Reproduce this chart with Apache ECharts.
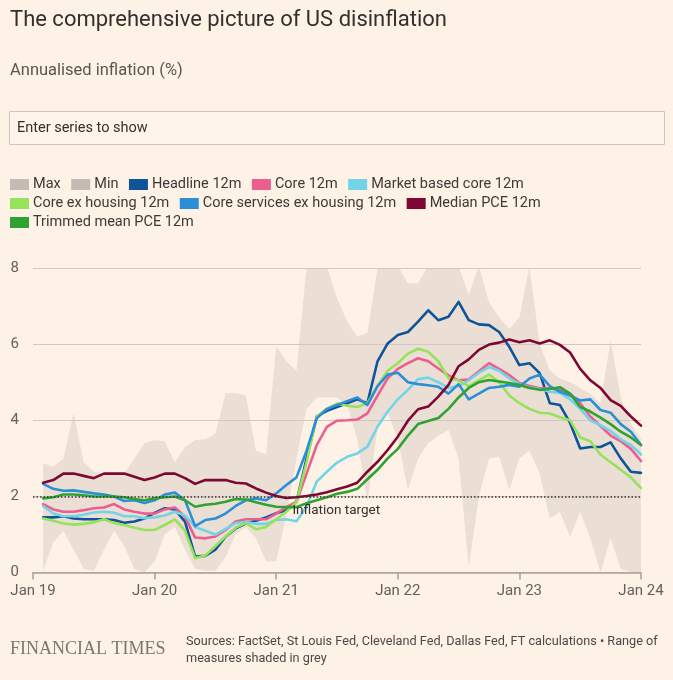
<!DOCTYPE html>
<html><head><meta charset="utf-8">
<script src="https://cdn.jsdelivr.net/npm/echarts/dist/echarts.min.js"></script>
<style>html,body{margin:0;padding:0;background:#fef1e6;}#c{width:673px;height:680px;}</style>
</head><body><div id="c"></div>
<script>
// x tick labels (every 12 months from Jan 2019)
const tickLabels = ['Jan 19', 'Jan 20', 'Jan 21', 'Jan 22', 'Jan 23', 'Jan 24'];
// first value is one month after Jan 2019 (Feb 2019), monthly to Jan 2024
const firstMonth = 1;

// range of measures (grey shading)
const rangeMax = [2.87,2.78,3.0,4.19,2.9,2.65,2.6,2.6,2.6,3.0,3.4,3.48,3.45,2.9,3.3,3.48,3.5,3.65,4.71,4.72,
  4.65,3.2,3.1,5.95,5.55,5.3,8.05,8.05,8.05,7.2,6.6,6.2,6.3,8.0,8.05,8.05,7.6,7.6,8.05,8.05,
  8.05,8.05,7.3,8.05,7.1,6.7,6.4,6.7,8.05,6.0,5.3,5.1,5.0,4.85,4.7,4.45,6.1,4.6,3.9,3.5];
const rangeMin = [0.05,0.8,1.1,0.6,0.1,0.05,0.6,1.1,0.7,0.1,0.0,0.3,1.0,1.2,0.6,0.1,0.05,0.05,0.4,1.0,
  1.2,0.9,0.3,0.3,1.5,3.0,4.3,4.6,4.6,4.6,4.4,3.5,1.86,3.8,4.2,3.5,2.17,3.0,3.4,3.6,
  3.74,3.0,0.15,2.0,3.0,3.05,2.17,3.0,3.2,2.6,1.43,1.6,0.94,1.6,0.9,0.0,0.9,0.1,0.0,0.0];

const headline = [1.45,1.45,1.48,1.42,1.40,1.40,1.40,1.38,1.31,1.34,1.42,1.57,1.69,1.66,1.34,0.42,0.44,0.60,0.94,1.16,
  1.29,1.36,1.45,1.56,1.64,1.86,3.00,4.10,4.25,4.35,4.45,4.55,4.45,5.55,6.02,6.24,6.32,6.59,6.89,6.63,
  6.72,7.11,6.63,6.52,6.50,6.32,5.93,5.45,5.50,5.24,4.45,4.40,3.93,3.26,3.30,3.30,3.42,3.00,2.65,2.62];
const core = [1.80,1.66,1.60,1.60,1.64,1.69,1.71,1.80,1.66,1.60,1.55,1.55,1.66,1.71,1.47,0.92,0.90,0.95,1.12,1.34,
  1.40,1.40,1.40,1.55,1.72,1.86,2.60,3.35,3.83,3.99,4.00,4.02,4.18,4.65,5.10,5.35,5.50,5.63,5.55,5.36,
  5.18,5.05,5.07,5.29,5.50,5.35,5.19,4.98,4.90,4.84,4.84,4.80,4.70,4.45,4.10,3.85,3.60,3.45,3.25,2.93];
const marketCore = [1.75,1.55,1.48,1.48,1.52,1.58,1.60,1.57,1.48,1.48,1.43,1.45,1.50,1.60,1.50,1.20,1.10,1.00,1.15,1.30,
  1.33,1.28,1.28,1.38,1.40,1.35,1.73,2.39,2.65,2.89,3.04,3.13,3.31,3.83,4.23,4.55,4.80,5.08,5.12,5.00,
  4.85,4.90,5.05,5.25,5.40,5.30,5.10,4.95,4.86,4.82,4.75,4.72,4.55,4.30,4.00,3.87,3.72,3.50,3.35,3.10];
const coreExHousing = [1.42,1.36,1.29,1.26,1.28,1.32,1.40,1.30,1.25,1.18,1.12,1.12,1.25,1.40,1.10,0.38,0.45,0.70,0.95,1.18,
  1.30,1.14,1.20,1.40,1.60,1.85,2.90,4.10,4.30,4.44,4.38,4.35,4.45,4.90,5.30,5.50,5.75,5.88,5.80,5.55,
  5.10,5.05,4.90,5.05,5.20,5.00,4.65,4.45,4.30,4.20,4.18,4.08,4.00,3.55,3.45,3.10,2.90,2.70,2.50,2.22];
const coreServicesExHousing = [2.33,2.20,2.15,2.16,2.12,2.08,2.05,2.00,1.88,1.90,1.83,1.90,2.05,2.10,1.90,1.22,1.38,1.42,1.55,1.75,
  1.90,1.95,1.90,2.08,2.30,2.50,3.20,4.05,4.30,4.40,4.50,4.60,4.40,4.90,5.20,5.25,5.00,4.95,4.92,4.88,
  4.70,4.95,4.55,4.70,4.85,4.88,4.93,4.88,5.10,5.20,4.90,4.75,4.65,4.52,4.55,4.27,4.20,3.90,3.70,3.35];
const medianPce = [2.36,2.43,2.60,2.60,2.54,2.48,2.60,2.60,2.60,2.52,2.43,2.50,2.60,2.60,2.48,2.33,2.43,2.43,2.43,2.36,
  2.34,2.21,2.10,2.01,1.96,1.98,2.01,2.05,2.11,2.19,2.26,2.36,2.65,2.91,3.22,3.57,3.99,4.29,4.36,4.62,
  4.93,5.42,5.60,5.85,5.99,6.04,6.12,6.05,6.10,6.02,6.10,5.98,5.78,5.35,5.05,4.85,4.53,4.38,4.10,3.86];
const trimmedMean = [1.95,1.98,2.05,2.05,2.03,2.00,2.00,2.00,1.98,1.93,1.90,1.95,1.98,2.00,1.90,1.73,1.78,1.81,1.86,1.93,
  1.92,1.85,1.78,1.73,1.72,1.72,1.82,1.90,1.98,2.07,2.12,2.20,2.45,2.70,3.00,3.25,3.60,3.90,3.98,4.06,
  4.30,4.60,4.85,5.00,5.06,5.02,4.98,4.93,4.85,4.80,4.82,4.87,4.70,4.35,4.23,4.07,3.90,3.70,3.55,3.35];
const inflationTarget = 2;

const seriesDefs = [
  {name: 'Headline 12m', data: headline, color: '#0f5499'},
  {name: 'Core 12m', data: core, color: '#eb5e8d'},
  {name: 'Market based core 12m', data: marketCore, color: '#72d4e6'},
  {name: 'Core ex housing 12m', data: coreExHousing, color: '#96e25a'},
  {name: 'Core services ex housing 12m', data: coreServicesExHousing, color: '#2b8fd8'},
  {name: 'Median PCE 12m', data: medianPce, color: '#7d0833'},
  {name: 'Trimmed mean PCE 12m', data: trimmedMean, color: '#2fa332'}
];

const toPairs = arr => arr.map((v, i) => [firstMonth + i, v]);
const FONT = 'Roboto';
const BG = '#fef1e6';
const greyKey = '#c4bbb4';

const series = [
  // shaded range: grey area up to Max, then background-coloured area up to Min
  {name: 'Max', type: 'line', data: toPairs(rangeMax), showSymbol: false, symbol: 'none',
   lineStyle: {width: 0, opacity: 0}, itemStyle: {color: greyKey},
   areaStyle: {color: '#ebdfd5', opacity: 1, origin: 'start'}, silent: true, z: 1},
  {name: 'Min', type: 'line', data: toPairs(rangeMin), showSymbol: false, symbol: 'none',
   lineStyle: {width: 0, opacity: 0}, itemStyle: {color: greyKey},
   areaStyle: {color: BG, opacity: 1, origin: 'start'}, silent: true, z: 1}
];
seriesDefs.forEach(s => {
  series.push({
    name: s.name, type: 'line', data: toPairs(s.data), showSymbol: false, symbol: 'none',
    itemStyle: {color: s.color}, lineStyle: {color: s.color, width: 2.6, join: 'round', cap: 'round'}, z: 3
  });
});
// inflation target dotted line
series[series.length - 1].markLine = {
  silent: true, symbol: 'none', animation: false,
  lineStyle: {color: '#3a3633', type: [1.5, 2], width: 1.6},
  label: {show: false},
  data: [{yAxis: inflationTarget}]
};

const legendStyle = {
  icon: 'rect', itemWidth: 19, itemHeight: 11, itemGap: 10.5, padding: 0, left: 10,
  textStyle: {fontFamily: FONT, fontSize: 14.5, color: '#3d3935', padding: [0, 0, 0, -1]},
  selectedMode: false
};
const withKey = name => (name === 'Max' || name === 'Min') ? {name, itemStyle: {color: greyKey}} : {name};

const chart = echarts.init(document.getElementById('c'), null, {renderer: 'canvas'});
chart.setOption({
  backgroundColor: BG,
  animation: false,
  textStyle: {fontFamily: FONT},
  grid: {left: 33, right: 32, top: 268, bottom: 107.4, containLabel: false},
  legend: [
    Object.assign({}, legendStyle, {top: 177, data: ['Max', 'Min', 'Headline 12m', 'Core 12m', 'Market based core 12m'].map(withKey)}),
    Object.assign({}, legendStyle, {top: 196, data: ['Core ex housing 12m', 'Core services ex housing 12m', 'Median PCE 12m'].map(withKey)}),
    Object.assign({}, legendStyle, {top: 215, data: ['Trimmed mean PCE 12m'].map(withKey)})
  ],
  xAxis: {
    type: 'value', min: 0, max: 60, interval: 12, z: 5,
    axisLine: {show: true, lineStyle: {color: '#a8a09a', width: 1.5}},
    axisTick: {show: true, length: 7, lineStyle: {color: '#a8a09a', width: 1.5}},
    splitLine: {show: false},
    axisLabel: {formatter: v => tickLabels[Math.round(v / 12)], color: '#66605c', fontSize: 15, margin: 11, fontFamily: FONT}
  },
  yAxis: {
    type: 'value', min: 0, max: 8, interval: 2, z: 2,
    axisLine: {show: false}, axisTick: {show: false},
    splitLine: {lineStyle: {color: '#d3c8bf', width: 1.2}},
    axisLabel: {color: '#66605c', fontSize: 15, margin: 14, fontFamily: FONT}
  },
  series: series
});

const tPos = chart.convertToPixel({gridIndex: 0}, [25.6, inflationTarget]);
chart.setOption({
  graphic: [
    {type: 'text', left: 10, top: 9, style: {text: 'The comprehensive picture of US disinflation', font: '22px ' + FONT, fill: '#33302e'}},
    {type: 'text', left: 10, top: 62, style: {text: 'Annualised inflation (%)', font: '16.5px ' + FONT, fill: '#5c5650'}},
    {type: 'rect', shape: {x: 9.5, y: 111.5, width: 655, height: 33}, style: {fill: '#fef4ec', stroke: '#cfc6be', lineWidth: 1}},
    {type: 'text', x: 17, y: 128, style: {text: 'Enter series to show', font: '14.5px ' + FONT, fill: '#33302e', verticalAlign: 'middle'}},
    {type: 'text', x: tPos[0], y: tPos[1] + 14, z: 10, style: {text: 'Inflation target', font: '13.5px ' + FONT, fill: '#33302e', verticalAlign: 'middle'}},
    {type: 'text', x: 10, y: 649, style: {text: 'FINANCIAL TIMES', font: '18px "Liberation Serif"', fill: '#7d7670', verticalAlign: 'middle'}},
    {type: 'text', x: 186, y: 642, style: {text: 'Sources: FactSet, St Louis Fed, Cleveland Fed, Dallas Fed, FT calculations \u2022 Range of', font: '12.7px ' + FONT, fill: '#4d4845', verticalAlign: 'middle'}},
    {type: 'text', x: 186, y: 659, style: {text: 'measures shaded in grey', font: '12.7px ' + FONT, fill: '#4d4845', verticalAlign: 'middle'}}
  ]
});
</script>
</body></html>
